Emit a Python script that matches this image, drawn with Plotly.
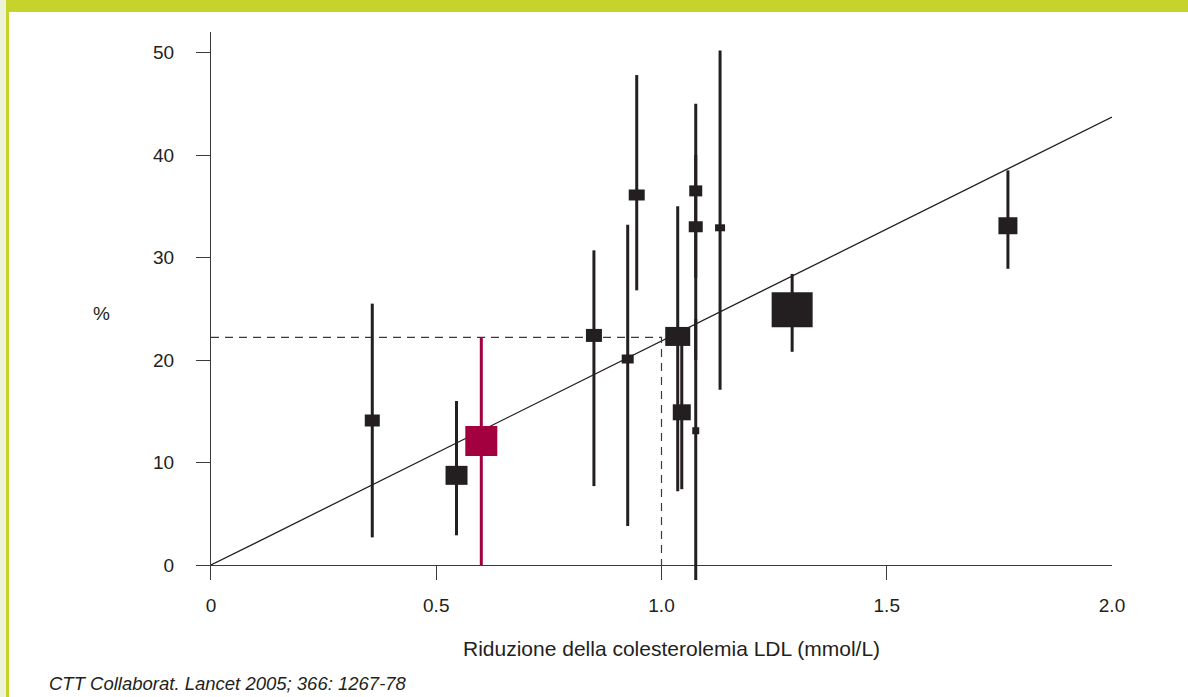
import plotly.graph_objects as go

# ---------------- data ----------------
# LDL cholesterol reduction (mmol/L) and % reduction in events, per trial
ldl_reduction = [0.358, 0.545, 0.850, 0.925, 0.945, 1.036, 1.045, 1.076, 1.076, 1.076, 1.130, 1.290, 1.769]
event_reduction = [14.1, 8.75, 22.4, 20.1, 36.1, 22.3, 14.9, 36.5, 33.0, 13.1, 32.9, 24.9, 33.1]
ci_low = [2.7, 2.9, 7.7, 3.8, 26.8, 7.2, 7.4, 28.0, 20.0, -1.5, 17.1, 20.8, 28.9]
ci_high = [25.5, 16.0, 30.7, 33.2, 47.8, 35.0, 21.5, 45.0, 40.0, 24.0, 50.2, 28.4, 38.5]

# highlighted trial (red)
hl_ldl = [0.600]
hl_event = [12.1]
hl_low = [0.0]
hl_high = [22.2]

# regression line
reg_ldl = [0.0, 2.0]
reg_event = [0.0, 43.7]

# reference dashed lines
ref_ldl = 1.0
ref_event = 22.2

x_tickvals = [0, 0.5, 1.0, 1.5, 2.0]
x_ticktext = ["0", "0.5", "1.0", "1.5", "2.0"]
y_tickvals = [0, 10, 20, 30, 40, 50]
y_ticktext = ["0", "10", "20", "30", "40", "50"]

# ---------------- styles ----------------
box_w_px = [15, 22, 16, 12, 16, 25, 18, 13, 14, 7, 10, 41, 19]
box_h_px = [12, 19, 13, 9, 11, 19, 16, 11, 11, 7, 7, 35, 17]
hl_box_w_px = [32]
hl_box_h_px = [30]

INK = "#231f20"
AXIS = "#3a3a3a"
RED = "#a2003f"
GREEN = "#c5d32a"
CREAM = "#eef2d6"
FONT = "Liberation Sans, Arial, sans-serif"

W, H = 1188, 697
ML, MR, MT, MB = 211, 76, 32, 117

fig = go.Figure()

# regression line
fig.add_trace(go.Scatter(x=reg_ldl, y=reg_event, mode="lines",
                         line=dict(color=INK, width=1.3), hoverinfo="skip"))

# dashed reference lines
fig.add_trace(go.Scatter(x=[0, ref_ldl, ref_ldl], y=[ref_event, ref_event, 0], mode="lines",
                         line=dict(color=AXIS, width=1.2, dash="8px,6px"), hoverinfo="skip"))

# confidence intervals (black)
fig.add_trace(go.Scatter(
    x=ldl_reduction, y=event_reduction, mode="markers",
    marker=dict(size=1, opacity=0),
    error_y=dict(type="data", symmetric=False,
                 array=[h - v for h, v in zip(ci_high, event_reduction)],
                 arrayminus=[v - l for v, l in zip(event_reduction, ci_low)],
                 thickness=3, width=0, color=INK),
    hoverinfo="skip"))

# confidence interval (red)
fig.add_trace(go.Scatter(
    x=hl_ldl, y=hl_event, mode="markers",
    marker=dict(size=1, opacity=0),
    error_y=dict(type="data", symmetric=False,
                 array=[h - v for h, v in zip(hl_high, hl_event)],
                 arrayminus=[v - l for v, l in zip(hl_event, hl_low)],
                 thickness=3, width=0, color=RED),
    hoverinfo="skip"))

shapes = []
# weighted boxes at data positions, sized in pixels
for xv, yv, w, h in zip(ldl_reduction, event_reduction, box_w_px, box_h_px):
    shapes.append(dict(type="rect", xref="x", yref="y",
                       xsizemode="pixel", xanchor=xv, x0=-w / 2, x1=w / 2,
                       ysizemode="pixel", yanchor=yv, y0=-h / 2, y1=h / 2,
                       fillcolor=INK, line=dict(width=0), layer="above"))
for xv, yv, w, h in zip(hl_ldl, hl_event, hl_box_w_px, hl_box_h_px):
    shapes.append(dict(type="rect", xref="x", yref="y",
                       xsizemode="pixel", xanchor=xv, x0=-w / 2, x1=w / 2,
                       ysizemode="pixel", yanchor=yv, y0=-h / 2, y1=h / 2,
                       fillcolor=RED, line=dict(width=0), layer="above"))

# page frame (paper coordinates from pixel positions)
pw, ph = W - ML - MR, H - MT - MB
def px(xp):
    return (xp - ML) / pw
def py(yp):
    return (H - MB - yp) / ph

shapes.append(dict(type="rect", xref="paper", yref="paper", x0=px(0), x1=px(6), y0=py(H), y1=py(0),
                   fillcolor=CREAM, line=dict(width=0), layer="below"))
shapes.append(dict(type="rect", xref="paper", yref="paper", x0=px(6), x1=px(9), y0=py(H), y1=py(0),
                   fillcolor=GREEN, line=dict(width=0), layer="below"))
shapes.append(dict(type="rect", xref="paper", yref="paper", x0=px(6), x1=px(W), y0=py(12), y1=py(0),
                   fillcolor=GREEN, line=dict(width=0), layer="below"))

annotations = [
    dict(text="Riduzione della colesterolemia LDL (mmol/L)", xref="paper", yref="paper",
         x=px(671.5), y=py(648), xanchor="center", yanchor="middle", showarrow=False,
         font=dict(family=FONT, size=21, color=INK)),
    dict(text="%", xref="paper", yref="paper",
         x=px(101), y=py(313), xanchor="center", yanchor="middle", showarrow=False,
         font=dict(family=FONT, size=19, color=INK)),
    dict(text="<i>CTT Collaborat. Lancet 2005; 366: 1267-78</i>", xref="paper", yref="paper",
         x=px(47), y=py(683), xanchor="left", yanchor="middle", showarrow=False,
         font=dict(family=FONT, size=18.5, color=INK)),
]

fig.update_layout(
    width=W, height=H,
    margin=dict(l=ML, r=MR, t=MT, b=MB, pad=0),
    paper_bgcolor="white", plot_bgcolor="white",
    showlegend=False,
    shapes=shapes, annotations=annotations,
    font=dict(family=FONT, color=INK),
    xaxis=dict(range=[0, 2.0], tickvals=x_tickvals, ticktext=x_ticktext,
               ticks="inside", ticklen=15, tickwidth=1.3, tickcolor=AXIS,
               showline=False, showgrid=False, zeroline=False,
               tickfont=dict(family=FONT, size=19, color=INK), ticklabelstandoff=12),
    yaxis=dict(range=[-1.46, 52.0], tickvals=y_tickvals, ticktext=y_ticktext,
               ticks="outside", ticklen=14, tickwidth=1.3, tickcolor=AXIS,
               showline=True, linecolor=AXIS, linewidth=1.3,
               showgrid=False, zeroline=True, zerolinecolor=AXIS, zerolinewidth=1.3,
               tickfont=dict(family=FONT, size=19, color=INK), ticklabelstandoff=18),
)

fig.write_html("out.html",
               config={"displayModeBar": False},
               post_script="document.body.style.margin='0';document.body.style.overflow='hidden';")
